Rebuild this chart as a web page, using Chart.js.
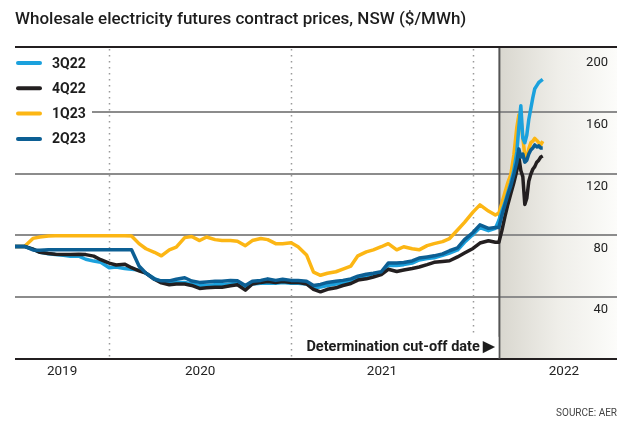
<!DOCTYPE html>
<html>
<head>
<meta charset="utf-8">
<title>Wholesale electricity futures contract prices, NSW</title>
<script src="https://cdn.jsdelivr.net/npm/chart.js@4.4.1/dist/chart.umd.min.js"></script>
<style>
  html, body { margin: 0; padding: 0; background: #fff; }
  canvas { display: block; }
</style>
</head>
<body>
<canvas id="chart" width="620" height="429"></canvas>
<script>
// text
const titleText = 'Wholesale electricity futures contract prices, NSW ($/MWh)';
const sourceText = 'SOURCE: AER';
const cutoffText = 'Determination cut-off date \u25B6\uFE0E';

// axes
const axisStart = '2019-06-26';
const axisEnd = '2022-10-17';
const cutoffDate = '2022-02-23';
const yearLabels = ['2019', '2020', '2021', '2022'];
const yTicks = [0, 40, 80, 120, 160, 200];
const seriesNames = ['3Q22', '4Q22', '1Q23', '2Q23'];

// sample dates (fortnightly, then every few days after the cut-off)
const dates = [
  '2019-06-26', '2019-07-01', '2019-07-15', '2019-08-01', '2019-08-15', '2019-09-01', '2019-09-15',
  '2019-10-01', '2019-10-15', '2019-11-01', '2019-11-15', '2019-12-01', '2019-12-15',
  '2020-01-01', '2020-01-15', '2020-02-01', '2020-02-15', '2020-03-01', '2020-03-15',
  '2020-04-01', '2020-04-15', '2020-05-01', '2020-05-15', '2020-06-01', '2020-06-15',
  '2020-07-01', '2020-07-15', '2020-08-01', '2020-08-15', '2020-09-01', '2020-09-15',
  '2020-10-01', '2020-10-15', '2020-11-01', '2020-11-15', '2020-12-01', '2020-12-15',
  '2021-01-01', '2021-01-15', '2021-02-01', '2021-02-15', '2021-03-01', '2021-03-15',
  '2021-04-01', '2021-04-15', '2021-05-01', '2021-05-15', '2021-06-01', '2021-06-15',
  '2021-07-01', '2021-07-15', '2021-08-01', '2021-08-15', '2021-09-01', '2021-09-15',
  '2021-10-01', '2021-10-15', '2021-11-01', '2021-11-15', '2021-12-01', '2021-12-15',
  '2022-01-01', '2022-01-15', '2022-02-01', '2022-02-15',
  '2022-02-22', '2022-02-28', '2022-03-06', '2022-03-12', '2022-03-18', '2022-03-24', '2022-03-30',
  '2022-04-03', '2022-04-07', '2022-04-11', '2022-04-15', '2022-04-19', '2022-04-23', '2022-04-27',
  '2022-05-01', '2022-05-05', '2022-05-09', '2022-05-13', '2022-05-17', '2022-05-21'
];

// $/MWh
const q3_22 = [
  72.8, 72.8, 72.8, 71, 69, 68, 67.5, 67, 66.5, 66.5, 64.5, 63.3, 62.5,
  59, 59.5, 58.5, 58, 57.5, 55.5, 52, 50, 49, 49.5, 49.5, 48.5,
  47.5, 47.5, 48, 48, 48.5, 49, 46.5, 48.5, 49, 49, 49, 49.5,
  49, 49, 48.5, 46, 46.5, 47.5, 48.5, 49, 50.5, 52, 54, 55,
  56, 60.5, 60.5, 61, 62, 64, 65, 65.5, 67, 68.5, 70.5, 75.5,
  80.5, 85, 83, 84.5,
  89.8, 95.7, 101, 107.6, 114.2, 122, 134,
  150, 164, 143, 140, 145, 155, 162,
  169, 175, 177, 179, 180, 181
];
const q4_22 = [
  72.8, 72.8, 72.8, 71, 69, 68.2, 67.8, 67.5, 67.5, 67.8, 67.5, 66.5, 64.2,
  62, 60.8, 61.3, 59, 57, 55.5, 51.5, 49.2, 48, 48.5, 48.5, 47.5,
  45.6, 46, 46.4, 46.4, 47.3, 48, 44.5, 48.5, 49.5, 50, 49.5, 50,
  49.5, 49.5, 48.5, 45, 43.4, 45, 46, 47.5, 48.8, 51, 51.8, 53,
  54.5, 58, 56.6, 57.5, 58.5, 59.5, 61, 62.5, 63, 63.5, 66, 68.5,
  71.5, 75, 76.5, 75.5,
  75.5, 83, 92, 100, 107, 114, 122,
  131, 122, 118, 100, 104, 115, 119.5,
  122.8, 124.5, 127.4, 128.7, 130.7, 131.4
];
const q1_23 = [
  72.8, 72.8, 72.8, 78, 78.9, 79.5, 79.7, 79.7, 79.7, 79.7, 79.7, 79.7, 79.7,
  79.7, 79.7, 79.7, 79.6, 74.6, 71.3, 69, 66.7, 70.6, 72.3, 78.5, 79.2,
  76.6, 78.9, 77.2, 76.6, 76.6, 76.2, 73.3, 76.6, 77.9, 77.2, 74.6, 74.6,
  75.2, 72.6, 67.3, 56.1, 54.1, 55.4, 56.4, 58.1, 60.1, 66.7, 69.3, 70.6,
  72.6, 74.6, 70.6, 72.6, 71.3, 70.6, 73.3, 74.6, 75.9, 77.9, 83.4, 88.4,
  95, 99.7, 95.7, 93.1,
  94.4, 101, 107.6, 114.2, 119.5, 132, 150,
  158, 156, 143, 132, 130, 136, 140,
  141, 142.8, 141.5, 140, 138.5, 141
];
const q2_23 = [
  72.8, 72.8, 72.8, 70.5, 70.3, 70.6, 70.6, 70.6, 70.6, 70.6, 70.6, 70.6, 70.6,
  70.6, 70.6, 70.6, 70.6, 60.1, 55.4, 51.5, 50.5, 50.5, 51.5, 52.5, 50.4,
  49.5, 49.8, 50.2, 50.2, 50.8, 50.5, 47.5, 50.2, 50.8, 51.8, 50.8, 51.5,
  50.8, 50.8, 50.2, 47.5, 48.2, 49.5, 50.2, 50.8, 51.8, 53.5, 54.8, 55.4,
  56.4, 62, 62, 62.4, 63.4, 65.3, 66, 66.7, 68, 70, 71.9, 77.2,
  81.8, 86.8, 84.5, 85.1,
  85.1, 93, 99.7, 106.3, 112.2, 119.5, 127.4,
  136, 130.7, 132.7, 127.4, 128.7, 132.7, 135.3,
  136.6, 138.6, 137.3, 138, 136.6, 136.6
];

// date string -> decimal year
function toYear(s) {
  const [y, m, d] = s.split('-').map(Number);
  const start = Date.UTC(y, 0, 1);
  const end = Date.UTC(y + 1, 0, 1);
  return y + (Date.UTC(y, m - 1, d) - start) / (end - start);
}

const xMin = toYear(axisStart);
const xMax = toYear(axisEnd);
const xs = dates.map(toYear);

// year label sits in the middle of the visible part of each year
const yearTickPos = yearLabels.map(l => (Math.max(+l, xMin) + (+l + 1)) / 2);

function series(values) {
  return values.map((v, i) => ({ x: xs[i], y: v }));
}

const FONT = 'Roboto';
Chart.defaults.font.family = FONT;
Chart.defaults.color = '#222';

const decorations = {
  id: 'decorations',
  beforeDraw(chart) {
    const { ctx, chartArea: a, scales: { x } } = chart;
    const cx = x.getPixelForValue(toYear(cutoffDate));
    const g = ctx.createLinearGradient(cx, 0, a.right, 0);
    g.addColorStop(0, '#d9d7cf');
    g.addColorStop(0.5, '#efeee9');
    g.addColorStop(1, '#fcfcfa');
    ctx.save();
    ctx.fillStyle = g;
    ctx.fillRect(cx, a.top, a.right - cx, a.bottom - a.top);
    ctx.restore();
  },
  beforeDatasetsDraw(chart) {
    const { ctx, chartArea: a, scales: { x } } = chart;
    ctx.save();
    // year boundaries
    ctx.strokeStyle = '#9a9a9a';
    ctx.lineWidth = 1.5;
    ctx.setLineDash([1.5, 4.5]);
    yearLabels.forEach(l => {
      const v = +l;
      if (v <= xMin || v >= xMax) return;
      const px = Math.round(x.getPixelForValue(v)) + 0.5;
      ctx.beginPath();
      ctx.moveTo(px, a.top + 2);
      ctx.lineTo(px, a.bottom);
      ctx.stroke();
    });
    ctx.setLineDash([]);
    // cut-off line
    const cx = x.getPixelForValue(toYear(cutoffDate));
    ctx.strokeStyle = '#555';
    ctx.lineWidth = 2;
    ctx.beginPath();
    ctx.moveTo(cx, a.top);
    ctx.lineTo(cx, a.bottom);
    ctx.stroke();
    // top rule
    ctx.strokeStyle = '#231f20';
    ctx.beginPath();
    ctx.moveTo(a.left, a.top);
    ctx.lineTo(a.right, a.top);
    ctx.stroke();
    ctx.restore();
  },
  afterDatasetsDraw(chart) {
    const { ctx, chartArea: a, scales: { x } } = chart;
    ctx.save();
    // cut-off label
    const cx = x.getPixelForValue(toYear(cutoffDate));
    ctx.font = 'bold 14.5px ' + FONT;
    const w = ctx.measureText(cutoffText).width;
    ctx.fillStyle = '#fff';
    ctx.fillRect(cx - w - 10, a.bottom - 22, w + 9, 21);
    ctx.fillStyle = '#1d1d1d';
    ctx.textAlign = 'right';
    ctx.textBaseline = 'middle';
    ctx.fillText(cutoffText, cx - 4, a.bottom - 11);

    // legend
    ctx.fillStyle = '#fff';
    ctx.fillRect(a.left, a.top + 2, 77, 102);
    ctx.textAlign = 'left';
    ctx.font = 'bold 14px ' + FONT;
    chart.data.datasets.forEach((ds, i) => {
      const y = a.top + 16 + i * 25.3;
      ctx.strokeStyle = ds.borderColor;
      ctx.lineWidth = 4;
      ctx.lineCap = 'round';
      ctx.beginPath();
      ctx.moveTo(a.left + 3, y);
      ctx.lineTo(a.left + 25, y);
      ctx.stroke();
      ctx.fillStyle = '#1d1d1d';
      ctx.fillText(ds.label, a.left + 37, y + 1);
    });
    ctx.restore();
  }
};

new Chart(document.getElementById('chart'), {
  type: 'line',
  data: {
    datasets: [
      { label: seriesNames[0], data: series(q3_22), borderColor: '#1ba1dd', order: 2 },
      { label: seriesNames[1], data: series(q4_22), borderColor: '#231f20', order: 1 },
      { label: seriesNames[2], data: series(q1_23), borderColor: '#fcb614', order: 3 },
      { label: seriesNames[3], data: series(q2_23), borderColor: '#0c5f94', order: 0 }
    ].map(ds => ({ ...ds, borderWidth: 3.5, pointRadius: 0, tension: 0, fill: false, borderJoinStyle: 'round' }))
  },
  options: {
    responsive: false,
    animation: false,
    events: [],
    layout: { padding: { left: 15, right: 3, top: 0, bottom: 0 } },
    plugins: {
      legend: { display: false },
      tooltip: { enabled: false },
      title: {
        display: true,
        text: titleText,
        align: 'start',
        color: '#1d1d1d',
        font: { size: 17, weight: '500' },
        padding: { top: 10, bottom: 16.6 }
      },
      subtitle: {
        display: true,
        text: sourceText,
        position: 'bottom',
        align: 'end',
        color: '#444',
        font: { size: 10 },
        padding: { top: 30, bottom: 10 }
      }
    },
    scales: {
      x: {
        type: 'linear',
        min: xMin,
        max: xMax,
        afterBuildTicks: axis => { axis.ticks = yearTickPos.map(v => ({ value: v })); },
        grid: { display: false },
        border: { display: false },
        ticks: {
          autoSkip: false,
          maxRotation: 0,
          padding: -3,
          color: '#222',
          font: { size: 13.5 },
          callback: v => yearLabels[yearTickPos.indexOf(v)]
        }
      },
      y: {
        position: 'right',
        min: 0,
        max: 202,
        afterBuildTicks: axis => { axis.ticks = yTicks.map(v => ({ value: v })); },
        afterFit: axis => { axis.width = 0; },
        grid: {
          drawTicks: false,
          lineWidth: 2,
          color: c => c.tick.value === 0 ? '#231f20' : (c.tick.value === 200 ? 'rgba(0,0,0,0)' : '#8c8c8c')
        },
        border: { display: false },
        ticks: {
          mirror: true,
          padding: -9,
          labelOffset: 13,
          color: '#222',
          font: { size: 13 },
          callback: v => v === 0 ? '' : String(v)
        }
      }
    }
  },
  plugins: [decorations]
});
</script>
</body>
</html>
